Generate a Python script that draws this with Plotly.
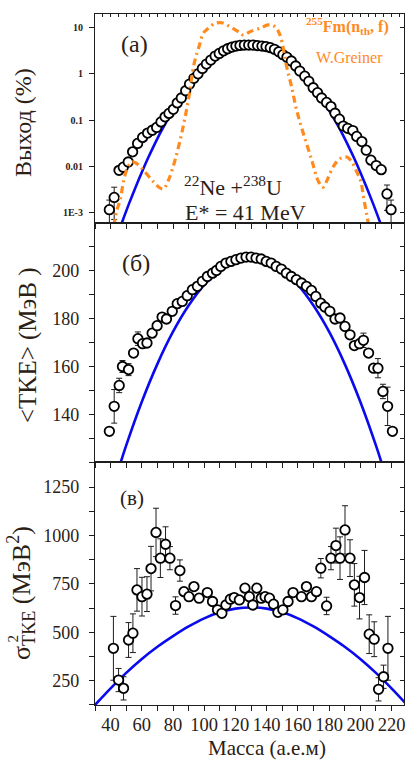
import plotly.graph_objects as go

# ---------------- data ----------------
# (a) fragment mass yield, %
mass_a = [39.2, 42.3, 45.4, 48.1, 51.3, 54.1, 57.3, 60.5, 63.7, 66.7, 69.5, 72.3, 74.9, 77.4,
          80.2, 82.7, 85.3, 88.1, 90.6, 93.4, 96.0, 98.8, 101.4, 104.2, 107.0, 109.6, 112.4,
          115.0, 117.7, 120.3, 122.9, 125.7, 128.5, 131.2, 134.2, 137.0, 139.6, 142.3, 145.0,
          147.8, 150.4, 153.0, 155.8, 158.6, 161.2, 164.4, 167.0, 169.8, 172.6, 175.2, 178.4,
          181.2, 183.8, 186.6, 189.1, 191.9, 195.2, 197.7, 201.0, 203.8, 206.8, 210.2, 213.4,
          217.1, 219.7]
yield_a = [0.00114, 0.0021, 0.0081, 0.0095, 0.0123, 0.0204, 0.031, 0.042, 0.052, 0.060, 0.069,
           0.091, 0.117, 0.139, 0.17, 0.235, 0.30, 0.43, 0.60, 0.80, 1.0, 1.31, 1.63, 1.99, 2.43,
           2.77, 3.16, 3.5, 3.8, 4.0, 4.14, 4.21, 4.21, 4.2, 4.1, 4.0, 3.9, 3.7, 3.4, 3.0, 2.6,
           2.3, 1.9, 1.48, 1.15, 0.89, 0.69, 0.50, 0.39, 0.30, 0.24, 0.195, 0.14, 0.104, 0.074,
           0.066, 0.059, 0.044, 0.034, 0.0222, 0.0135, 0.0103, 0.0084, 0.0025, 0.00114]
yield_err_a = [0.0007, 0.0014] + [0] * 61 + [0.0014, 0.0007]

# liquid-drop curve for the yield
ldm_mass_a = [44, 48, 52, 56, 60, 64, 68, 72, 76, 80, 85, 90, 95, 100, 105, 110, 115, 120, 125,
              130, 135, 140, 145, 150, 155, 160, 165, 170, 175, 180, 184, 188, 192, 196, 200,
              204, 208, 212, 216]
ldm_yield_a = [0.0003, 0.0007, 0.0016, 0.0035, 0.0074, 0.015, 0.029, 0.054, 0.095, 0.163, 0.30,
               0.52, 0.84, 1.27, 1.81, 2.42, 3.03, 3.56, 3.92, 4.05, 3.92, 3.56, 3.03, 2.42,
               1.81, 1.27, 0.84, 0.52, 0.30, 0.163, 0.095, 0.054, 0.029, 0.015, 0.0074, 0.0035,
               0.0016, 0.0007, 0.0003]

# 255Fm(n_th, f) mass yield, W.Greiner
fm_mass = [42.0, 43.9, 46.0, 48.1, 50.3, 53.5, 56.0, 58.0, 62.0, 67.4, 71.5, 73.8, 77.0, 81.3,
           86.0, 89.8, 93.6, 97.3, 99.4, 102.6, 106.9, 111.2, 116.5, 121.8, 125.0, 129.3, 135.7,
           141.0, 145.3, 148.5, 152.8, 156.0, 159.2, 163.5, 168.9, 173.0, 176.0, 179.0, 182.7,
           187.0, 191.3, 194.5, 197.7, 200.2, 202.0, 204.1, 205.5]
fm_yield = [0.0005, 0.00107, 0.0018, 0.0043, 0.0083, 0.0123, 0.0118, 0.0105, 0.0075, 0.0046,
            0.0034, 0.0032, 0.0049, 0.0135, 0.06, 0.27, 1.7, 4.6, 7.6, 9.7, 12.4, 12.8, 10.5,
            8.2, 6.95, 8.2, 9.7, 11.5, 10.5, 7.0, 1.43, 0.52, 0.164, 0.051, 0.0135, 0.0048,
            0.0035, 0.0052, 0.0098, 0.0145, 0.0158, 0.0125, 0.0075, 0.0049, 0.0022, 0.0009,
            0.0005]

# (б) mean total kinetic energy, MeV
mass_b = [39.2, 42.3, 45.5, 47.6, 51.5, 54.7, 57.5, 60.5, 63.3, 66.6, 69.8, 73.0, 75.8, 79.5,
          82.7, 85.9, 89.1, 92.4, 95.6, 98.8, 102.0, 105.3, 107.8, 110.6, 113.9, 117.1, 120.3,
          123.5, 126.8, 130.0, 133.2, 136.5, 139.7, 142.9, 146.1, 149.4, 152.6, 155.8, 159.0,
          162.3, 165.5, 168.7, 171.5, 174.7, 177.3, 180.5, 183.8, 187.0, 190.2, 193.4, 196.2,
          199.5, 202.0, 205.3, 208.5, 211.3, 214.5, 217.5, 220.6]
tke_b = [133.1, 143.5, 152.2, 160.1, 158.8, 165.7, 171.7, 169.6, 169.9, 174.0, 177.1, 180.7,
         179.9, 183.1, 186.3, 187.2, 189.6, 192.1, 193.5, 195.6, 197.6, 199.0, 200.1, 201.8,
         203.2, 203.9, 204.6, 205.3, 205.7, 205.7, 205.3, 204.9, 203.9, 203.2, 201.8, 200.7,
         199.0, 197.6, 196.3, 194.9, 193.5, 191.8, 189.3, 186.5, 184.9, 183.1, 179.9, 180.3,
         176.8, 173.3, 168.8, 169.6, 171.0, 165.7, 159.4, 159.4, 149.7, 143.5, 133.1]
tke_err_b = [0, 7, 3, 2.5, 2.5, 0, 2.8] + [0] * 45 + [3, 0, 0, 4, 3, 8, 0]

ldm_mass_b = [44, 50, 60, 70, 80, 90, 100, 110, 120, 130, 140, 150, 160, 170, 180, 190, 200,
              210, 216]
ldm_tke_b = [115.1, 127.2, 145.4, 161.2, 174.6, 185.5, 194.1, 200.1, 203.8, 205.0, 203.8,
             200.1, 194.1, 185.5, 174.6, 161.2, 145.4, 127.2, 115.1]

# (в) TKE variance, MeV^2
mass_c = [41.8, 45.1, 48.3, 51.5, 54.3, 56.9, 60.1, 63.3, 65.9, 69.1, 71.9, 75.2, 78.0, 81.6,
          84.4, 87.0, 90.2, 93.4, 96.7, 102.0, 105.3, 108.5, 111.3, 113.9, 116.7, 119.2, 122.5,
          126.1, 128.9, 131.1, 133.7, 136.5, 139.0, 141.8, 144.4, 147.2, 150.4, 153.7, 156.9,
          162.3, 165.5, 168.7, 171.9, 174.7, 178.4, 181.2, 184.4, 187.0, 190.2, 193.4, 196.2,
          199.5, 202.7, 205.7, 208.9, 211.7, 214.9, 217.7]
var_c = [417, 253, 210, 460, 495, 719, 684, 697, 829, 1016, 883, 955, 883, 638, 819, 710, 684,
         736, 676, 705, 659, 616, 598, 641, 671, 679, 667, 728, 684, 641, 728, 676, 684, 676,
         645, 603, 616, 659, 705, 684, 736, 684, 710, 831, 636, 883, 948, 883, 1029, 883, 745,
         679, 783, 490, 464, 205, 270, 417]
var_err_c = ([165, 60, 60, 90, 100, 110, 100, 90, 115, 125, 100, 90, 60, 45, 55] + [0] * 28 +
             [50, 45, 60, 90, 110, 125, 95, 110, 110, 140, 100, 90, 60, 60, 165])

ldm_mass_c = [30, 40, 50, 60, 70, 80, 90, 100, 110, 120, 130, 140, 150, 160, 170, 180, 190, 200,
              210, 220, 230]
ldm_var_c = [124, 210, 290, 362, 425, 480, 530, 572, 603, 622, 628, 622, 603, 572, 530, 480,
             425, 362, 290, 210, 124]

yield_ticks = [0.001, 0.01, 0.1, 1, 10]
yield_ticktext = ['1E-3', '0.01', '0.1', '1', '10']

# ---------------- layout geometry ----------------
W, H = 406, 760
ML, MR, MT, MB = 95, 2, 14, 55
PW, PH = W - ML - MR, H - MT - MB


def fy(ypx):
    return (H - MB - ypx) / PH


def fx(xpx):
    return (xpx - ML) / PW


FONT = 'Liberation Serif, Times New Roman, DejaVu Serif, serif'
INK = '#2b2014'
LINE = '#1e1e1e'
BLUE = '#0a0aee'
ORANGE = '#ff8a1e'

fig = go.Figure()


def add_panel(xa, ya, xs, ys, errs, lx, ly):
    fig.add_trace(go.Scatter(x=lx, y=ly, xaxis=xa, yaxis=ya, mode='lines', line_shape='spline',
                             line=dict(color=BLUE, width=2.6), showlegend=False, hoverinfo='skip'))
    ex = [m for m, e in zip(xs, errs) if e > 0]
    ey = [v for v, e in zip(ys, errs) if e > 0]
    ee = [e for e in errs if e > 0]
    fig.add_trace(go.Scatter(x=ex, y=ey, xaxis=xa, yaxis=ya, mode='markers',
                             marker=dict(size=1, color='rgba(0,0,0,0)'),
                             error_y=dict(type='data', array=ee, color=LINE, thickness=1, width=3),
                             showlegend=False, hoverinfo='skip'))
    fig.add_trace(go.Scatter(x=xs, y=ys, xaxis=xa, yaxis=ya, mode='markers',
                             marker=dict(symbol='circle', size=9.5, color='white',
                                         line=dict(color='black', width=1.8)),
                             showlegend=False, hoverinfo='skip'))


add_panel('x3', 'y3', mass_c, var_c, var_err_c, ldm_mass_c, ldm_var_c)
add_panel('x2', 'y2', mass_b, tke_b, tke_err_b, ldm_mass_b, ldm_tke_b)
add_panel('x', 'y', mass_a, yield_a, yield_err_a, ldm_mass_a, ldm_yield_a)

fig.add_trace(go.Scatter(x=fm_mass, y=fm_yield, xaxis='x', yaxis='y', mode='lines',
                         line_shape='spline',
                         line=dict(color=ORANGE, width=3.2, dash='7px,4px,2px,4px'),
                         showlegend=False, hoverinfo='skip'))

# empty traces so the mirrored inside-tick axes are drawn
for xa, ya in [('x', 'y4'), ('x2', 'y5'), ('x3', 'y6'), ('x4', 'y')]:
    fig.add_trace(go.Scatter(x=[None], y=[None], xaxis=xa, yaxis=ya, mode='markers',
                             showlegend=False, hoverinfo='skip'))

dom_a = [fy(223), 1.0]
dom_b = [fy(462), fy(223)]
dom_c = [0.0, fy(462)]
XR = [30, 228]
YR_A = [-3.232, 1.297]
YR_B = [120.3, 219.9]
YR_C = [124, 1380]


def base_axis(**kw):
    d = dict(showline=True, linecolor=LINE, linewidth=1.2, mirror=True, showgrid=False,
             zeroline=False, ticks='outside', ticklen=5, tickwidth=1, tickcolor=LINE,
             tickfont=dict(family=FONT, size=18, color=INK))
    d.update(kw)
    return d


def inner_axis(**kw):
    d = dict(showline=False, showgrid=False, zeroline=False, ticks='inside', ticklen=4,
             tickwidth=1, tickcolor=LINE, showticklabels=False)
    d.update(kw)
    return d


xminor = dict(dtick=10, ticks='outside', ticklen=5, tickwidth=1, tickcolor=LINE)

fig.update_layout(
    width=W, height=H, autosize=False,
    margin=dict(l=ML, r=MR, t=MT, b=MB, pad=0),
    paper_bgcolor='white', plot_bgcolor='white',
    showlegend=False,
    font=dict(family=FONT, color=INK),
    xaxis=base_axis(domain=[0, 1], anchor='y', range=XR, tick0=0, dtick=20, minor=xminor,
                    showticklabels=False),
    xaxis2=base_axis(domain=[0, 1], anchor='y2', range=XR, tick0=0, dtick=20, minor=xminor,
                     showticklabels=False),
    xaxis3=base_axis(domain=[0, 1], anchor='y3', range=XR, tick0=0, dtick=20, minor=xminor,
                     ticklabelstandoff=-2, tickfont=dict(family=FONT, size=18.5, color=INK)),
    xaxis4=inner_axis(overlaying='x', side='top', anchor='y', range=XR, tick0=0, dtick=5,
                      ticklen=3),
    yaxis=base_axis(domain=dom_a, anchor='x', type='log', range=YR_A,
                    tickvals=yield_ticks, ticktext=yield_ticktext, ticklabelstandoff=4,
                    tickfont=dict(family=FONT, size=10, color=INK, weight='bold')),
    yaxis2=base_axis(domain=dom_b, anchor='x2', range=YR_B, tick0=0, dtick=20,
                     minor=dict(dtick=10, ticks='outside', ticklen=5, tickcolor=LINE),
                     ticklabelstandoff=6),
    yaxis3=base_axis(domain=dom_c, anchor='x3', range=YR_C, tick0=0, dtick=250,
                     minor=dict(dtick=125, ticks='outside', ticklen=5, tickcolor=LINE),
                     ticklabelstandoff=6),
    yaxis4=inner_axis(overlaying='y', anchor='x', side='right', type='log', range=YR_A,
                      tickvals=yield_ticks),
    yaxis5=inner_axis(overlaying='y2', anchor='x2', side='right', range=YR_B, tick0=0,
                      dtick=10),
    yaxis6=inner_axis(overlaying='y3', anchor='x3', side='right', range=YR_C, tick0=0,
                      dtick=125),
)


def note(text, xpx, ypx, size, angle=0, color=INK, weight='normal'):
    return dict(text=text, xref='paper', yref='paper', x=fx(xpx), y=fy(ypx),
                xanchor='center', yanchor='middle', showarrow=False, textangle=angle,
                font=dict(family=FONT, size=size, color=color, weight=weight))


fig.update_layout(annotations=[
    note('(a)', 134, 44, 24),
    note('(б)', 136, 263, 24),
    note('(в)', 132, 498, 21),
    note('<sup>22</sup>Ne +<sup>238</sup>U', 233, 186, 22),
    note('E* = 41 MeV', 245, 212, 22),
    note('<sup>255</sup>Fm(n<sub>th</sub>, f)', 347, 26, 16, color=ORANGE, weight='bold'),
    note('W.Greiner', 349, 57, 16, color=ORANGE),
    note('Выход (%)', 23, 123, 24, angle=-90),
    note('&lt;TKE&gt; (МэВ )', 28, 345, 25, angle=-90),
    note('σ<sub>TKE</sub> (МэВ<sup>2</sup>)', 21, 593, 26, angle=-90),
    note('2', 12.5, 639, 15, angle=-90),
    note('Масса (а.е.м)', 267, 748, 21),
])

fig.write_html('out.html')
